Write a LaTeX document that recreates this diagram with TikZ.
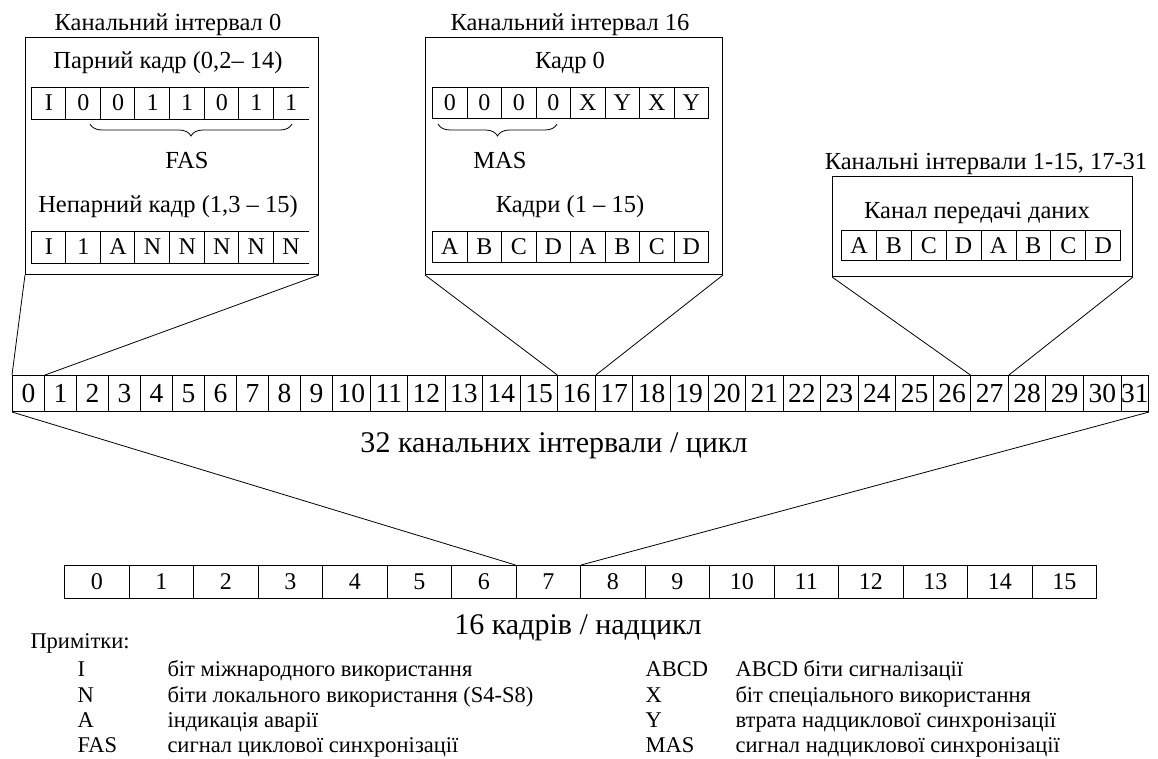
\documentclass[tikz,border=0pt]{standalone}
\usepackage{fontspec}
\setmainfont{Liberation Serif}
\usetikzlibrary{decorations.pathreplacing}
\newcommand\myfs[1]{\fontsize{#1}{#1}\selectfont}
\begin{document}
\begin{tikzpicture}[x=1pt,y=-1pt,line width=1pt,
  boxframe/.style={draw, anchor=north west, inner sep=0pt},
  bit/.style={anchor=north west, inner sep=0pt, minimum height=31pt, font=\myfs{24}},
  bitd/.style={bit, draw},
  txt/.style={anchor=base, inner sep=0pt, font=\myfs{24.5}},
  note/.style={anchor=base west, inner sep=0pt, font=\myfs{22.5}},
  big/.style={anchor=base, inner sep=0pt, font=\myfs{30}},
  slot/.style={draw, anchor=north west, inner sep=0pt, minimum height=36pt, font=\myfs{27.5}},
  frm/.style={draw, anchor=north west, inner sep=0pt, minimum width=64.5pt, minimum height=33pt, font=\myfs{24}},
  link/.style={line width=0.8pt},
  brc/.style={decorate, decoration={brace, amplitude=12pt}, line width=0.8pt}
]
\useasboundingbox (0,0) rectangle (1158,758);
\fill[white] (0,0) rectangle (1158,758);

% ---- 32 timeslots ----
\foreach \i in {0,...,31}{
  \pgfmathsetmacro\L{\i<10 ? 12+32*\i : 332+37.55*(\i-10)}
  \pgfmathsetmacro\W{\i<10 ? 32 : (\i==31 ? 27.5 : 37.55)}
  \node[slot, minimum width=\W pt] (c\i) at (\L,375) {\i};
}
\node[big] (lab32) at (554,452) {32 канальних інтервали / цикл};

% ---- 16 frames ----
\foreach \i in {0,...,15}
  \node[frm] (f\i) at (64+64.5*\i,565) {\i};
\node[big] (lab16) at (578,634) {16 кадрів / надцикл};

% ---- box TS0 ----
\node[txt] (t0) at (168,30) {Канальний інтервал 0};
\node[boxframe, minimum width=293pt, minimum height=237pt] (box0) at (25,37) {};
\node[txt] (even) at (168,68) {Парний кадр (0,2– 14)};
\foreach \t [count=\k from 0] in {I,0,0,1,1,0,1,1}
  \node[bit, minimum width=34.6pt] (p\k) at (31+34.6*\k,87) {\t};
\draw (p0.north west) -- (p7.north east) (p0.south west) -- (p7.south east);
\foreach \k in {0,...,7} \draw (p\k.north west) -- (p\k.south west);
\draw[brc] (292,124) -- (90,124);
\node[txt] (fas) at (187,168) {FAS};
\node[txt] (odd) at (168,212) {Непарний кадр (1,3 – 15)};
\foreach \t [count=\k from 0] in {I,1,A,N,N,N,N,N}
  \node[bit, minimum width=34.6pt] (n\k) at (31+34.6*\k,231) {\t};
\draw (n0.north west) -- (n7.north east) (n0.south west) -- (n7.south east);
\foreach \k in {0,...,7} \draw (n\k.north west) -- (n\k.south west);

% ---- box TS16 ----
\node[txt] (t16) at (570,30) {Канальний інтервал 16};
\node[boxframe, minimum width=297pt, minimum height=237pt] (box16) at (425,37) {};
\node[txt] (fr0) at (570,68) {Кадр 0};
\foreach \t [count=\k from 0] in {0,0,0,0,X,Y,X,Y}
  \node[bitd, minimum width=34.5pt] (m\k) at (432+34.5*\k,87) {\t};
\draw[brc] (557,124) -- (438,124);
\node[txt] (mas) at (500,168) {MAS};
\node[txt] (fr115) at (570,212) {Кадри (1 – 15)};
\foreach \t [count=\k from 0] in {A,B,C,D,A,B,C,D}
  \node[bitd, minimum width=34.5pt] (d\k) at (432+34.5*\k,231) {\t};

% ---- box data TS ----
\node[txt] (tR) at (986,169) {Канальні інтервали 1-15, 17-31};
\node[boxframe, minimum width=300pt, minimum height=100pt] (boxR) at (832,176) {};
\node[txt] (data) at (977,218) {Канал передачі даних};
\foreach \t [count=\k from 0] in {A,B,C,D,A,B,C,D}
  \node[bitd, minimum width=34.9pt, minimum height=30pt] (r\k) at (841+34.9*\k,230) {\t};

% ---- connectors ----
\draw[link] (box0.south west) -- (c0.north west);
\draw[link] (box0.south east) -- (c0.north east);
\draw[link] (box16.south west) -- (c16.north west);
\draw[link] (box16.south east) -- (c16.north east);
\draw[link] (boxR.south west) -- (c27.north west);
\draw[link] (boxR.south east) -- (c27.north east);
\draw[link] (c0.south west) -- (f7.north west);
\draw[link] (c31.south east) -- (f7.north east);

% ---- notes ----
\node[note] (notes) at (30,648) {Примітки:};
\node[note] (kI) at (77,676) {I};     \node[note] (vI) at (167,676) {біт міжнародного використання};
\node[note] (kN) at (77,702) {N};     \node[note] (vN) at (167,702) {біти локального використання (S4-S8)};
\node[note] (kA) at (77,727) {A};     \node[note] (vA) at (167,727) {індикація аварії};
\node[note] (kF) at (77,752) {FAS};   \node[note] (vF) at (167,752) {сигнал циклової синхронізації};
\node[note] (kB) at (645,676) {ABCD}; \node[note] (vB) at (735,676) {ABCD біти сигналізації};
\node[note] (kX) at (645,702) {X};    \node[note] (vX) at (735,702) {біт спеціального використання};
\node[note] (kY) at (645,727) {Y};    \node[note] (vY) at (735,727) {втрата надциклової синхронізації};
\node[note] (kM) at (645,752) {MAS};  \node[note] (vM) at (735,752) {сигнал надциклової синхронізації};
\end{tikzpicture}
\end{document}
